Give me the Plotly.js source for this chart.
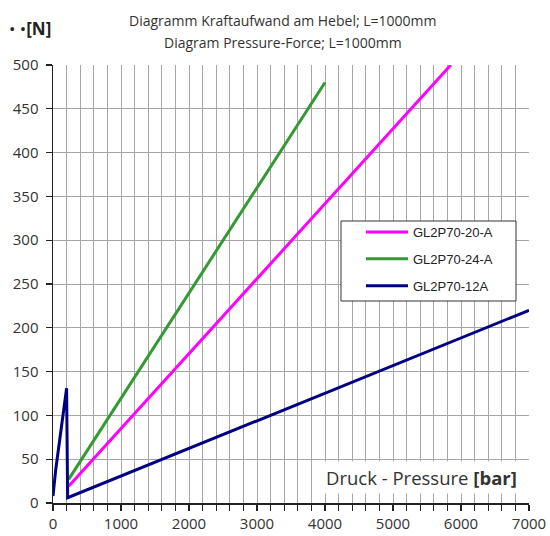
<!DOCTYPE html>
<html>
<head>
<meta charset="utf-8">
<script src="https://cdn.plot.ly/plotly-3.0.1.min.js"></script>
<style>html,body{margin:0;padding:0;background:#fff;}#chart{width:550px;height:536px;}</style>
</head>
<body>
<div id="chart"></div>
<script>
// Data
const seriesNames = ["GL2P70-20-A", "GL2P70-24-A", "GL2P70-12A"];
const pressure20 = [230, 5850];
const force20 = [19, 500];
const pressure24 = [230, 4000];
const force24 = [27, 480];
const pressure12 = [0, 40, 200, 215, 7000];
const force12 = [8, 38, 131, 6, 220];
const xTicks = [0, 1000, 2000, 3000, 4000, 5000, 6000, 7000];
const yTicks = [0, 50, 100, 150, 200, 250, 300, 350, 400, 450, 500];
const titleLines = ["Diagramm Kraftaufwand am Hebel; L=1000mm", "Diagram Pressure-Force; L=1000mm"];
const colors = ["#ff00ff", "#339933", "#000080"];

const traces = [
  {x: pressure20, y: force20, name: seriesNames[0], legendgroup: "a"},
  {x: pressure24, y: force24, name: seriesNames[1], legendgroup: "b"},
  {x: pressure12, y: force12, name: seriesNames[2], legendgroup: "c"}
].map((t, i) => Object.assign(t, {
  type: "scatter", mode: "lines", line: {color: colors[i], width: 3}, cliponaxis: true
}));

const L = 53, R = 529, T = 65, B = 503;
const px = v => (v - L) / (R - L);
const py = v => (B - v) / (B - T);

const titleFont = {size: 14, color: "#333333", family: "Open Sans, sans-serif"};

const layout = {
  width: 550, height: 536,
  margin: {l: L, r: 550 - R, t: T, b: 536 - B, pad: 0},
  paper_bgcolor: "#ffffff", plot_bgcolor: "#ffffff",
  font: {family: "Open Sans, sans-serif", color: "#333333"},
  showlegend: true,
  legend: {
    x: px(361), y: py(217), xanchor: "left", yanchor: "top",
    bgcolor: "rgba(0,0,0,0)", borderwidth: 0,
    font: {family: "Liberation Sans, Arial, sans-serif", size: 13, color: "#222222"},
    itemwidth: 42, tracegroupgap: 7
  },
  xaxis: {
    range: [0, 7000], tickmode: "array", tickvals: xTicks, ticktext: xTicks.map(String),
    ticks: "outside", ticklen: 6, tickwidth: 1.2, tickcolor: "#222",
    showline: true, linecolor: "#222", linewidth: 1.5,
    showgrid: true, gridcolor: "#a6a6a6", gridwidth: 1, zeroline: false,
    minor: {dtick: 200, ticks: "outside", ticklen: 6, tickcolor: "#222", showgrid: true, gridcolor: "#a6a6a6", gridwidth: 1},
    tickfont: {size: 15, color: "#333", family: "Open Sans, sans-serif"},
    fixedrange: true
  },
  yaxis: {
    range: [0, 500], tickmode: "array", tickvals: yTicks, ticktext: yTicks.map(String),
    ticks: "outside", ticklen: 6, tickwidth: 1.2, tickcolor: "#222",
    showline: true, linecolor: "#222", linewidth: 1.5,
    showgrid: true, gridcolor: "#a6a6a6", gridwidth: 1, zeroline: false,
    tickfont: {size: 15, color: "#333", family: "Open Sans, sans-serif"},
    ticklabelstandoff: 4,
    fixedrange: true
  },
  shapes: [{
    type: "rect", xref: "paper", yref: "paper",
    x0: px(341), x1: px(516), y0: py(301), y1: py(221),
    fillcolor: "#ffffff", line: {color: "#333333", width: 1}, layer: "above"
  }],
  annotations: [
    {
      xref: "paper", yref: "paper", x: px(283), y: py(20), xanchor: "center", yanchor: "middle",
      text: titleLines[0], showarrow: false, font: titleFont
    },
    {
      xref: "paper", yref: "paper", x: px(283), y: py(42), xanchor: "center", yanchor: "middle",
      text: titleLines[1], showarrow: false, font: titleFont
    },
    {
      xref: "paper", yref: "paper", x: px(7), y: py(28), xanchor: "left", yanchor: "middle",
      text: "• •<b>[N]</b>", showarrow: false,
      font: {size: 17, color: "#222", family: "Open Sans, sans-serif"}
    },
    {
      xref: "paper", yref: "paper", x: px(421), y: py(477), xanchor: "center", yanchor: "middle",
      text: "Druck - Pressure <b>[bar]</b>", showarrow: false, bgcolor: "#ffffff",
      borderpad: 3,
      font: {size: 18.5, color: "#333", family: "Open Sans, sans-serif"}
    }
  ]
};

Plotly.newPlot("chart", traces, layout, {displayModeBar: false, staticPlot: true});
</script>
</body>
</html>
